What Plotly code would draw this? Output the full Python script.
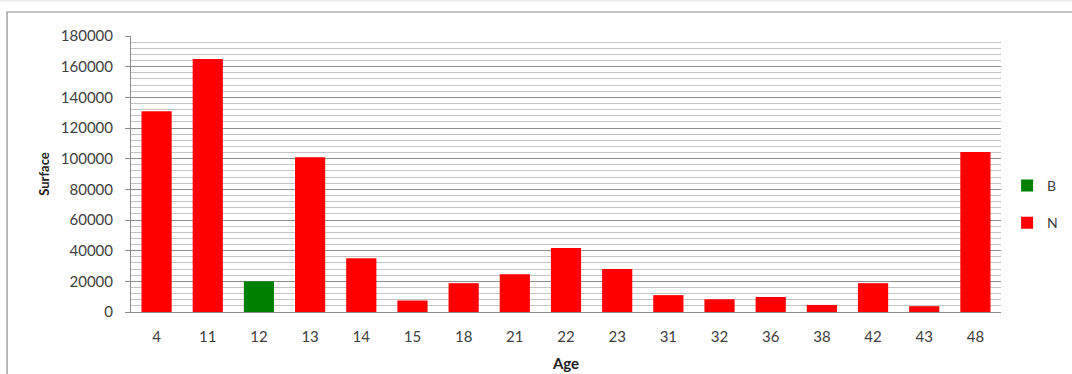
"""Bar chart of Surface by Age, split by group B / N."""

import plotly.graph_objects as go

# Data
ages = ["4", "11", "12", "13", "14", "15", "18", "21", "22",
        "23", "31", "32", "36", "38", "42", "43", "48"]
group = ["N", "N", "B", "N", "N", "N", "N", "N", "N",
         "N", "N", "N", "N", "N", "N", "N", "N"]
surface = [131000, 165000, 20000, 101000, 35000, 7500, 18800, 24700, 41700,
           28000, 11000, 8300, 9800, 4600, 18800, 3800, 104300]

y_ticks = list(range(0, 180001, 20000))

_COLOUR_B = "#008000"
_COLOUR_N = "#FF0000"
_FONT = "Lato, 'Open Sans', sans-serif"


def _series(name):
    return [v if g == name else None for v, g in zip(surface, group)]


fig = go.Figure()
for name, colour in (("B", _COLOUR_B), ("N", _COLOUR_N)):
    fig.add_trace(
        go.Bar(
            name=name,
            x=ages,
            y=_series(name),
            marker_color=colour,
            marker_line_width=0,
            legendgroup=name,
        )
    )

# outer chart border (extends past the bottom/right of the window)
fig.add_shape(
    type="rect", xref="paper", yref="paper",
    x0=-0.1425, y0=-0.3, x1=1.12, y1=1.087,
    line={"color": "#8c8c8c", "width": 1.2},
    fillcolor="rgba(0,0,0,0)", layer="below",
)
# faint line along the very top of the picture
fig.add_shape(
    type="line", xref="paper", yref="paper",
    x0=-0.2, x1=1.2, y0=1.127, y1=1.127,
    line={"color": "#dcdcdc", "width": 1},
    layer="below",
)

fig.update_layout(
    width=1072,
    height=374,
    margin={"l": 131, "r": 71, "t": 36, "b": 62, "autoexpand": False},
    paper_bgcolor="white",
    plot_bgcolor="white",
    barmode="overlay",
    bargap=0.41,
    font={"family": _FONT, "size": 15, "color": "#404040"},
    xaxis={
        "type": "category",
        "automargin": False,
        "title": {"text": "<b>Age</b>", "standoff": 14,
                  "font": {"size": 15, "color": "#202020"}},
        "showgrid": False,
        "ticks": "",
        "ticklabelstandoff": 11,
        "showline": True,
        "linecolor": "#8c8c8c",
        "linewidth": 1,
    },
    yaxis={
        "automargin": False,
        "title": {"text": "<b>Surface</b>", "standoff": 8,
                  "font": {"size": 13, "color": "#202020"}},
        "range": [0, 180000],
        "tickvals": y_ticks,
        "tickformat": "d",
        "showgrid": True,
        "gridcolor": "#8f8f8f",
        "gridwidth": 1,
        "minor": {"dtick": 4000, "showgrid": True,
                  "gridcolor": "#c4c4c4", "gridwidth": 1},
        "ticks": "outside",
        "ticklen": 5,
        "tickcolor": "#8c8c8c",
        "showline": True,
        "linecolor": "#8c8c8c",
        "linewidth": 1,
        "zeroline": False,
        "ticklabelstandoff": 9,
    },
    legend={
        "x": 1.007,
        "y": 0.39,
        "xanchor": "left",
        "yanchor": "middle",
        "tracegroupgap": 16,
        "font": {"size": 14, "color": "#404040"},
        "itemwidth": 30,
    },
    showlegend=True,
)

# the page body has a default 8px margin; drop it so the figure sits at 0,0
fig.write_html(
    "out.html",
    config={"displayModeBar": False},
    post_script="document.body.style.margin='0';",
)
